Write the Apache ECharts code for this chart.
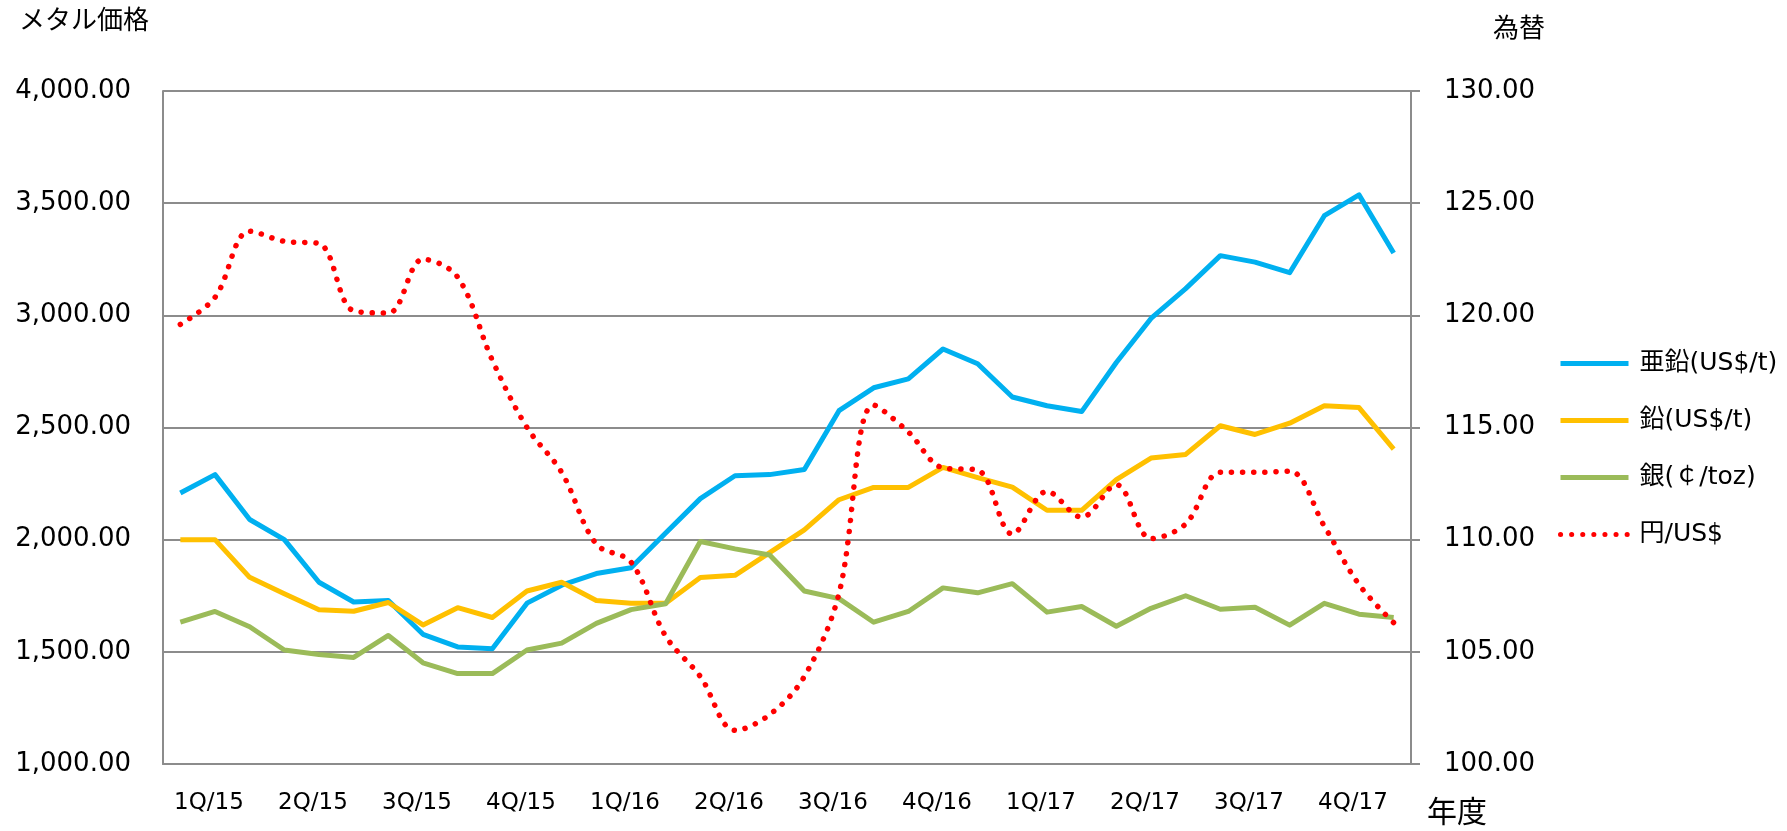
<!DOCTYPE html>
<html>
<head>
<meta charset="utf-8">
<script src="https://cdn.jsdelivr.net/npm/echarts@6/dist/echarts.min.js"></script>
<style>
html,body{margin:0;padding:0;background:#fff;}
#chart{width:1787px;height:831px;}
</style>
</head>
<body>
<div id="chart"></div>
<script>
// Months Apr 2015 .. Mar 2018 (fiscal quarters 1Q/15 .. 4Q/17)
var categories = [
 '2015/04','2015/05','2015/06','2015/07','2015/08','2015/09','2015/10','2015/11','2015/12','2016/01','2016/02','2016/03',
 '2016/04','2016/05','2016/06','2016/07','2016/08','2016/09','2016/10','2016/11','2016/12','2017/01','2017/02','2017/03',
 '2017/04','2017/05','2017/06','2017/07','2017/08','2017/09','2017/10','2017/11','2017/12','2018/01','2018/02','2018/03'
];
var quarterLabels = ['1Q/15','2Q/15','3Q/15','4Q/15','1Q/16','2Q/16','3Q/16','4Q/16','1Q/17','2Q/17','3Q/17','4Q/17'];

var zinc = [2208,2290,2090,2000,1810,1722,1729,1578,1522,1514,1717,1797,1849,1875,2030,2183,2285,2290,2313,2575,2677,2717,2850,2784,2636,2597,2571,2790,2986,3119,3266,3237,3190,3444,3537,3278];
var lead = [2000,2000,1832,1759,1688,1681,1720,1620,1697,1653,1771,1810,1729,1717,1717,1831,1841,1942,2044,2178,2233,2233,2322,2277,2234,2131,2131,2268,2364,2380,2508,2469,2519,2597,2589,2404];
var silver = [1632,1680,1612,1508,1488,1475,1573,1451,1403,1403,1508,1539,1627,1688,1714,1992,1959,1932,1771,1737,1632,1680,1785,1763,1804,1677,1702,1614,1694,1750,1690,1699,1619,1716,1668,1653];
var yen = [119.6,120.8,123.75,123.3,123.2,120.2,120.1,122.5,121.7,118.0,115.0,113.0,109.8,109.0,105.7,103.9,101.5,102.2,103.9,107.6,116.0,114.8,113.2,113.1,110.25,112.15,111.0,112.45,110.05,110.7,113.0,113.0,113.05,110.6,108.0,106.3];

var seriesNames = ['亜鉛(US$/t)','鉛(US$/t)','銀(￠/toz)','円/US$'];
var leftTitle = 'メタル価格';
var rightTitle = '為替';
var xTitle = '年度';

var FONT = "'DejaVu Sans','Noto Sans CJK JP',sans-serif";
var GRID_COLOR = '#8c8c8c';

var chart = echarts.init(document.getElementById('chart'), null, {renderer:'canvas'});
chart.setOption({
  backgroundColor:'#ffffff',
  animation:false,
  textStyle:{fontFamily:FONT,color:'#000'},
  title:[
    {text:leftTitle,left:14,top:4,textStyle:{fontFamily:FONT,fontSize:26,fontWeight:'normal',color:'#000'}},
    {text:rightTitle,left:1488,top:12,textStyle:{fontFamily:FONT,fontSize:26,fontWeight:'normal',color:'#000'}},
    {text:xTitle,left:1422,top:794,textStyle:{fontFamily:FONT,fontSize:30,fontWeight:'normal',color:'#000'}}
  ],
  grid:{left:163,right:376,top:91,bottom:67,containLabel:false},
  legend:{
    orient:'vertical',left:1553,top:346,
    itemWidth:68,itemHeight:14,itemGap:32,
    itemStyle:{opacity:0},
    lineStyle:{width:5},
    textStyle:{fontFamily:FONT,fontSize:25,color:'#000',padding:[0,0,0,6]},
    data:seriesNames
  },
  xAxis:{
    type:'category',data:categories,boundaryGap:true,
    axisLine:{show:true,lineStyle:{color:GRID_COLOR,width:2}},
    axisTick:{show:false},
    axisLabel:{
      interval:function(i){return i%3===1;},
      formatter:function(v,i){return quarterLabels[Math.floor(i/3)];},
      fontFamily:FONT,fontSize:23,color:'#000',margin:28,padding:[0,12,0,0]
    },
    splitLine:{show:false}
  },
  yAxis:[
    {
      type:'value',min:1000,max:4000,interval:500,position:'left',
      axisLine:{show:true,lineStyle:{color:GRID_COLOR,width:2}},
      axisTick:{show:false},
      axisLabel:{fontFamily:FONT,fontSize:26,color:'#000',margin:32,
        formatter:function(v){return v.toLocaleString('en-US',{minimumFractionDigits:2,maximumFractionDigits:2});}},
      splitLine:{show:true,lineStyle:{color:GRID_COLOR,width:2}}
    },
    {
      type:'value',min:100,max:130,interval:5,position:'right',
      axisLine:{show:true,lineStyle:{color:GRID_COLOR,width:2}},
      axisTick:{show:true,inside:false,length:9,lineStyle:{color:GRID_COLOR,width:2}},
      axisLabel:{fontFamily:FONT,fontSize:26,color:'#000',margin:33,
        formatter:function(v){return v.toFixed(2);}},
      splitLine:{show:false}
    }
  ],
  series:[
    {name:seriesNames[0],type:'line',yAxisIndex:0,data:zinc,symbol:'none',
      lineStyle:{color:'#00B0F0',width:5,join:'round'},itemStyle:{color:'#00B0F0'}},
    {name:seriesNames[1],type:'line',yAxisIndex:0,data:lead,symbol:'none',
      lineStyle:{color:'#FFC000',width:5,join:'round'},itemStyle:{color:'#FFC000'}},
    {name:seriesNames[2],type:'line',yAxisIndex:0,data:silver,symbol:'none',
      lineStyle:{color:'#9BBB59',width:5,join:'round'},itemStyle:{color:'#9BBB59'}},
    {name:seriesNames[3],type:'line',yAxisIndex:1,data:yen,symbol:'none',smooth:0.35,
      lineStyle:{color:'#FF0000',width:5.5,type:[0.1,11],cap:'round'},itemStyle:{color:'#FF0000'}}
  ]
});
</script>
</body>
</html>
